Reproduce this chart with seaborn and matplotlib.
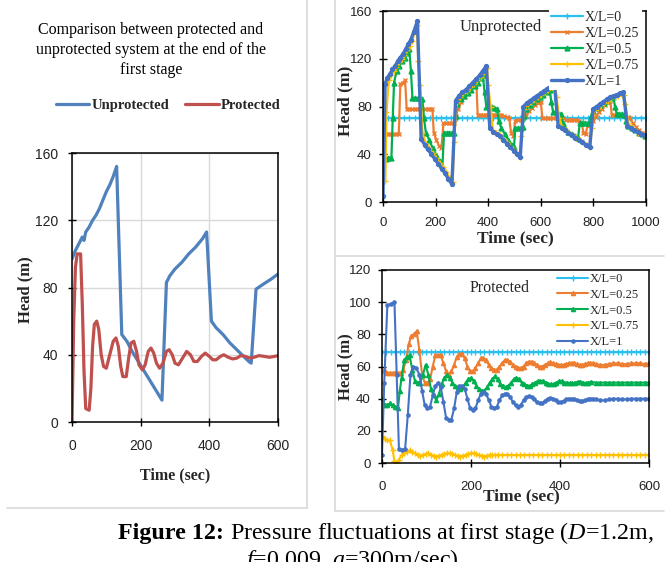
import matplotlib
matplotlib.use("Agg")
import matplotlib.pyplot as plt
import seaborn as sns
import pandas as pd
from matplotlib.lines import Line2D

sns.set_style("ticks")
plt.rcParams["font.family"] = ["Liberation Serif", "DejaVu Serif"]
plt.rcParams["mathtext.fontset"] = "custom"
plt.rcParams["mathtext.rm"] = "Liberation Serif"
plt.rcParams["mathtext.it"] = "Liberation Serif:italic"
plt.rcParams["mathtext.bf"] = "Liberation Serif:bold"

# ---------------- DATA ----------------
# Left panel: end of first stage (time s, head m)
unprotected = [(0, 97), (10, 102), (20, 106), (30, 110), (35, 108), (40, 113), (50, 116), (60, 120),
               (70, 123), (80, 127), (90, 132), (100, 137), (110, 141), (120, 146), (130, 152),
               (145, 52), (160, 48), (175, 42), (190, 37), (205, 32), (220, 27), (235, 22), (250, 17),
               (262, 13), (275, 83), (285, 87), (300, 91), (320, 95), (340, 100), (360, 104), (380, 109),
               (392, 113), (406, 60), (420, 56), (440, 52), (460, 47), (480, 43), (500, 39), (515, 36),
               (522, 35), (536, 79), (550, 81), (565, 83), (580, 85), (600, 88)]
protected = [(0, 0), (5, 60), (10, 92), (15, 100), (25, 100), (30, 70), (35, 30), (40, 8), (50, 7),
             (55, 20), (60, 45), (65, 58), (72, 60), (78, 55), (85, 40), (92, 33), (100, 32), (110, 40),
             (120, 48), (128, 50), (135, 45), (142, 33), (148, 27), (158, 27), (165, 38), (172, 47),
             (180, 48), (188, 42), (195, 34), (205, 31), (213, 34), (222, 42), (230, 44), (238, 41),
             (246, 35), (255, 32), (265, 35), (275, 42), (283, 43), (292, 40), (300, 35), (310, 34),
             (322, 38), (334, 42), (345, 40), (355, 36), (365, 36), (377, 39), (388, 41), (400, 39),
             (410, 37), (420, 37), (432, 39), (442, 40), (455, 38.5), (468, 37.5), (480, 38),
             (492, 39.5), (505, 39), (518, 38), (530, 38.5), (545, 39.5), (560, 39), (575, 38.5),
             (590, 39), (600, 39.5)]

# Top-right panel: unprotected, X/L stations
series_labels = ["X/L=0", "X/L=0.25", "X/L=0.5", "X/L=0.75", "X/L=1"]
top_xl0_t = list(range(0, 1001, 20))
top_xl0_h = [70, 70, 70, 70, 70, 70, 70, 70, 70, 70,
             70, 70, 70, 70, 70, 70, 70, 70, 70, 70,
             70, 70, 70, 70, 70, 70, 70, 70, 70, 70,
             70, 70, 70, 70, 70, 70, 70, 70, 70, 70,
             70, 70, 70, 70, 70, 70, 70, 70, 70, 70, 70]
top_xl025 = [(0, 57), (10, 57), (20, 57), (30, 57), (40, 57), (50, 57), (60, 57), (66, 99), (76, 100),
             (84, 102), (90, 78), (100, 78), (110, 78), (120, 78), (130, 78), (140, 78), (150, 78),
             (160, 78), (170, 78), (180, 78), (188, 78), (193, 58), (203, 52), (213, 47), (222, 45),
             (230, 66), (240, 66), (250, 66), (260, 66), (270, 66), (276, 72), (286, 78), (298, 84),
             (310, 88), (322, 91), (334, 94), (346, 97), (355, 100), (360, 73), (370, 73), (380, 73),
             (390, 73), (400, 73), (410, 73), (420, 73), (430, 73), (440, 73), (450, 73), (460, 72),
             (470, 71), (480, 70), (487, 58), (495, 55), (503, 68), (513, 69), (523, 69), (533, 70),
             (543, 72), (555, 76), (567, 79), (579, 81), (591, 83), (600, 84), (606, 70), (616, 70),
             (626, 70), (636, 70), (646, 70), (656, 70), (666, 70), (676, 70), (686, 70), (696, 69),
             (706, 69), (716, 69), (726, 69), (736, 69), (746, 68), (756, 66), (762, 58), (770, 57),
             (778, 64), (788, 66), (798, 68), (808, 71), (820, 75), (832, 78), (844, 81), (856, 84),
             (864, 85), (870, 73), (880, 73), (890, 73), (900, 73), (910, 73), (920, 72), (930, 71),
             (940, 70), (950, 66), (962, 63), (974, 60), (986, 58), (998, 56)]
top_xl05 = [(0, 37), (10, 36), (20, 37), (32, 37), (37, 70), (42, 100), (52, 110), (62, 114), (72, 118),
            (82, 121), (92, 125), (100, 128), (106, 110), (112, 87), (122, 87), (132, 87), (142, 87),
            (150, 86), (156, 70), (163, 58), (176, 52), (189, 45), (202, 39), (215, 34), (226, 30),
            (232, 58), (242, 58), (252, 58), (262, 58), (270, 58), (276, 72), (283, 82), (296, 86),
            (309, 89), (322, 91), (335, 94), (348, 97), (361, 100), (372, 104), (380, 106), (386, 92),
            (393, 80), (403, 80), (413, 80), (423, 79), (433, 78), (440, 68), (450, 62), (463, 57),
            (476, 52), (489, 48), (498, 46), (503, 62), (513, 62), (523, 62), (531, 63), (537, 72),
            (545, 78), (558, 81), (571, 84), (584, 86), (597, 88), (610, 90), (623, 92), (634, 94),
            (640, 84), (647, 75), (657, 75), (667, 74), (677, 74), (684, 66), (692, 62), (705, 59),
            (718, 57), (731, 55), (742, 54), (748, 66), (758, 66), (768, 66), (778, 66), (786, 66),
            (792, 72), (800, 76), (813, 79), (826, 81), (839, 83), (852, 85), (865, 87), (876, 88),
            (882, 80), (888, 74), (898, 74), (908, 74), (918, 73), (925, 68), (933, 64), (946, 62),
            (959, 60), (972, 58), (985, 57), (998, 55)]
top_xl075 = [(0, 18), (9, 18), (13, 75), (22, 102), (31, 106), (41, 110), (51, 113), (61, 117), (71, 120),
             (81, 123), (91, 127), (101, 131), (111, 135), (121, 143), (129, 148), (134, 118), (141, 98),
             (150, 58), (163, 49), (176, 45), (189, 41), (202, 37), (215, 33), (228, 29), (241, 25),
             (254, 20), (265, 17), (270, 50), (280, 84), (293, 88), (306, 91), (319, 93), (332, 96),
             (345, 99), (358, 102), (371, 105), (384, 109), (396, 112), (400, 98), (409, 80), (418, 60),
             (431, 58), (444, 56), (457, 53), (470, 50), (483, 47), (496, 44), (509, 41), (520, 38),
             (526, 55), (537, 78), (550, 82), (563, 84), (576, 86), (589, 88), (602, 90), (615, 92),
             (628, 94), (641, 96), (654, 98), (660, 88), (670, 70), (683, 62), (696, 60), (709, 58),
             (722, 56), (735, 54), (748, 52), (761, 50), (774, 48), (788, 46), (794, 62), (803, 77),
             (816, 79), (829, 81), (842, 83), (855, 85), (868, 87), (881, 88), (894, 89), (907, 90),
             (917, 90), (922, 82), (932, 66), (945, 62), (958, 60), (971, 58), (984, 57), (997, 55)]
top_xl1 = [(0, 5), (8, 99), (16, 104), (26, 107), (36, 111), (46, 114), (56, 118), (66, 121), (76, 124),
           (86, 128), (96, 132), (106, 136), (116, 142), (124, 147), (131, 152), (145, 53), (158, 48),
           (171, 44), (184, 40), (197, 36), (210, 32), (223, 28), (236, 24), (249, 19), (262, 15),
           (276, 85), (289, 89), (302, 92), (315, 94), (328, 97), (341, 100), (354, 103), (367, 106),
           (380, 110), (393, 114), (406, 62), (419, 59), (432, 57), (445, 55), (458, 52), (471, 49),
           (484, 46), (497, 43), (510, 40), (522, 38), (534, 80), (547, 83), (560, 85), (573, 87),
           (586, 89), (599, 91), (612, 93), (625, 95), (638, 97), (651, 100), (666, 64), (679, 62),
           (692, 60), (705, 58), (718, 56), (731, 54), (744, 52), (757, 50), (770, 48), (786, 46),
           (799, 78), (812, 80), (825, 82), (838, 84), (851, 86), (864, 88), (877, 89), (890, 90),
           (903, 91), (914, 92), (929, 64), (942, 62), (955, 60), (968, 59), (981, 57), (994, 56),
           (1000, 55)]

# Bottom-right panel: protected, X/L stations
bot_xl0_t = list(range(0, 601, 10))
bot_xl0_h = [69, 69, 69, 69, 69, 69, 69, 69, 69, 69,
             69, 69, 69, 69, 69, 69, 69, 69, 69, 69,
             69, 69, 69, 69, 69, 69, 69, 69, 69, 69,
             69, 69, 69, 69, 69, 69, 69, 69, 69, 69,
             69, 69, 69, 69, 69, 69, 69, 69, 69, 69,
             69, 69, 69, 69, 69, 69, 69, 69, 69, 69, 69]
bot_xl025 = [(0, 58), (6, 57), (12, 56), (18, 56), (24, 56), (30, 56), (36, 56), (42, 56), (48, 58),
             (54, 64), (60, 74), (66, 79), (72, 80), (78, 82), (84, 70), (90, 55), (96, 50), (102, 50),
             (108, 52), (114, 60), (120, 67), (126, 67), (132, 67), (138, 62), (144, 57), (150, 55),
             (156, 57), (162, 61), (168, 66), (174, 68), (180, 68), (186, 65), (192, 60), (198, 57),
             (204, 57), (210, 59), (216, 62), (222, 65), (228, 65), (234, 64), (240, 61), (246, 59),
             (252, 58), (258, 58), (264, 60), (270, 62), (276, 64), (282, 64), (288, 63), (294, 61),
             (300, 60), (306, 59), (312, 59), (318, 60), (324, 62), (330, 63), (336, 63), (342, 62),
             (348, 61), (354, 60), (360, 60), (366, 61), (372, 62), (378, 62.5), (384, 62), (390, 61.5),
             (396, 61), (402, 61), (408, 61), (414, 61.5), (420, 62), (426, 62), (432, 62), (438, 61.5),
             (444, 61), (450, 61), (456, 61.5), (462, 62), (468, 62), (474, 62), (480, 61.5), (490, 61),
             (500, 61), (510, 61.5), (520, 62), (530, 62), (540, 61.5), (550, 61.5), (560, 62),
             (570, 62), (580, 62), (590, 61.5), (600, 62)]
bot_xl05 = [(0, 40), (6, 36), (12, 36), (18, 37), (24, 36), (30, 35), (36, 34), (40, 45), (44, 53),
            (50, 64), (56, 66), (62, 67), (68, 58), (74, 51), (80, 50), (86, 50), (92, 55), (98, 61),
            (104, 55), (110, 46), (116, 42), (122, 39), (128, 43), (134, 49), (140, 53), (146, 55),
            (152, 53), (158, 50), (164, 48), (170, 47), (176, 46), (182, 47), (188, 50), (194, 52),
            (200, 53), (206, 51), (212, 48), (218, 46), (224, 45), (230, 45), (236, 47), (242, 50),
            (248, 52), (254, 54), (260, 52), (266, 49), (272, 48), (278, 47), (284, 48), (290, 50),
            (296, 52), (302, 53), (308, 52), (314, 50), (320, 49), (326, 48), (332, 48), (338, 49),
            (344, 50), (350, 51), (356, 51), (362, 51), (368, 50), (374, 49), (380, 49), (386, 49),
            (392, 50), (398, 51), (404, 51), (410, 50), (416, 50), (422, 49.5), (428, 49.5), (434, 50),
            (440, 50.5), (446, 50.5), (452, 50), (458, 49.5), (464, 50), (470, 50.5), (480, 50),
            (490, 50), (500, 50), (510, 50), (520, 50), (530, 50), (540, 50), (550, 50), (560, 50),
            (570, 50), (580, 50), (590, 50), (600, 50)]
bot_xl075 = [(0, 17), (6, 15), (12, 14), (18, 14), (24, 8), (28, 1), (32, 0), (38, 2), (44, 5), (50, 6),
             (56, 7), (62, 8), (68, 7), (74, 6), (80, 5), (86, 4.5), (92, 5), (98, 5.5), (104, 6),
             (110, 5), (116, 4.5), (122, 4), (128, 4.5), (134, 5), (140, 5.5), (146, 6), (152, 6),
             (158, 5.5), (164, 5), (170, 4.5), (176, 4), (182, 4.5), (188, 5), (194, 5.5), (200, 6),
             (206, 6), (212, 5.5), (218, 5), (224, 4.5), (230, 4), (236, 4.5), (242, 5), (248, 5),
             (254, 5), (260, 5), (270, 5), (280, 5), (290, 5), (300, 5), (310, 5), (320, 5), (330, 5),
             (340, 5), (350, 5), (360, 5), (370, 5), (380, 5), (390, 5), (400, 5), (410, 5), (420, 5),
             (430, 5), (440, 5), (450, 5), (460, 5), (470, 5), (480, 5), (490, 5), (500, 5), (510, 5),
             (520, 5), (530, 5), (540, 5), (550, 5), (560, 5), (570, 5), (580, 5), (590, 5), (600, 5)]
bot_xl1 = [(0, 5), (5, 50), (12, 98), (20, 99), (28, 100), (33, 55), (38, 9), (45, 8), (52, 9), (58, 30),
           (64, 55), (70, 60), (77, 59), (84, 55), (90, 45), (96, 36), (102, 34), (108, 35), (114, 42),
           (120, 48), (126, 50), (132, 47), (138, 38), (144, 28), (150, 27), (156, 27), (162, 34),
           (168, 44), (174, 48), (180, 48), (186, 46), (192, 40), (198, 34), (204, 33), (210, 34),
           (216, 39), (222, 43), (228, 44), (234, 43), (240, 39), (246, 35), (252, 34), (258, 35),
           (264, 39), (270, 42), (276, 43), (282, 43), (288, 41), (294, 38), (300, 36), (306, 35),
           (312, 36), (318, 39), (324, 41), (330, 41.5), (336, 41), (342, 39.5), (348, 38), (354, 37),
           (360, 37), (366, 38.5), (372, 40), (378, 40.5), (384, 40), (390, 39), (396, 38), (402, 38),
           (408, 38.5), (414, 39.5), (420, 40), (426, 40), (432, 39.5), (438, 39), (444, 38.5),
           (450, 38.5), (456, 39), (462, 39.5), (468, 40), (474, 40), (480, 39.5), (490, 39), (500, 39),
           (510, 39.5), (520, 40), (530, 40), (540, 39.5), (550, 39.5), (560, 40), (570, 40), (580, 40),
           (590, 40), (600, 40)]

left_xticks = [0, 200, 400, 600]
left_yticks = [0, 40, 80, 120, 160]
top_xticks = [0, 200, 400, 600, 800, 1000]
top_yticks = [0, 40, 80, 120, 160]
bot_xticks = [0, 200, 400, 600]
bot_yticks = [0, 20, 40, 60, 80, 100, 120]

# ---------------- FIGURE ----------------
W, H = 669, 562
fig = plt.figure(figsize=(W / 100, H / 100), dpi=100)


def px_axes(x0, y0, x1, y1):
    return fig.add_axes([x0 / W, 1 - y1 / H, (x1 - x0) / W, (y1 - y0) / H])


def frame(x0, y0, x1, y1):
    fig.add_artist(Line2D([x0 / W, x1 / W], [1 - y0 / H, 1 - y1 / H],
                          color="#d9d9d9", lw=1.2, transform=fig.transFigure))


# panel borders
frame(307, 0, 307, 508)
frame(7, 508, 307, 508)
frame(335, 0, 335, 511)
frame(335, 256, 664, 256)
frame(335, 511, 664, 511)


def to_df(pairs):
    return pd.DataFrame(pairs, columns=["t", "h"])


def style_axes(ax, xticks, yticks, fs, xpad, ypad):
    ax.set_xticks(xticks)
    ax.set_yticks(yticks)
    ax.tick_params(direction="inout", length=6, width=1, colors="black",
                   labelsize=fs, pad=xpad, axis="x")
    ax.tick_params(direction="inout", length=6, width=1, colors="black",
                   labelsize=fs, pad=ypad, axis="y")
    for lab in ax.get_xticklabels() + ax.get_yticklabels():
        lab.set_family("Liberation Sans")
        lab.set_color("#222222")
    for s in ax.spines.values():
        s.set_visible(True)
        s.set_color("black")
        s.set_linewidth(1.1)


# ---- Left panel ----
ax_l = px_axes(72, 153, 278, 422)
sns.lineplot(data=to_df(unprotected), x="t", y="h", ax=ax_l, color="#4F81BD", lw=2.3,
             label="Unprotected", estimator=None, sort=False)
sns.lineplot(data=to_df(protected), x="t", y="h", ax=ax_l, color="#C0504D", lw=2.3,
             label="Protected", estimator=None, sort=False)
ax_l.set_xlim(0, 600)
ax_l.set_ylim(0, 160)
style_axes(ax_l, left_xticks, left_yticks, 10, 9, 7)
ax_l.grid(True, color="#d9d9d9", lw=1)
ax_l.set_axisbelow(True)
ax_l.set_ylabel("Head (m)", fontsize=12, fontweight="bold", va="center")
ax_l.yaxis.set_label_coords((25 - 72) / 206, (422 - 290) / 269)
ax_l.set_xlabel("Time (sec)", fontsize=11.5, fontweight="bold", va="center")
ax_l.xaxis.set_label_coords(0.5, -(475 - 422) / 269)
ax_l.legend(loc="center", bbox_to_anchor=(168 / W, 1 - 105 / H), bbox_transform=fig.transFigure,
            ncol=2, frameon=False, handlelength=2.3, columnspacing=1.1, handletextpad=0.15,
            prop={"family": "Liberation Serif", "weight": "bold", "size": 10.5})
fig.text(151 / W, 1 - 50 / H,
         "Comparison between protected and\nunprotected system at the end of the\nfirst stage",
         ha="center", va="center", fontsize=11.5, linespacing=1.36, color="black")

# ---- Top-right panel (Unprotected) ----
colors = ["#2BC0F0", "#ED7D31", "#00B050", "#FFC000", "#4472C4"]
ax_t = px_axes(383, 11, 646, 202)
top_series = [pd.DataFrame({"t": top_xl0_t, "h": top_xl0_h}), to_df(top_xl025), to_df(top_xl05),
              to_df(top_xl075), to_df(top_xl1)]
top_markers = [("+", 5, 1.6), ("x", 3.5, 1.6), ("^", 3.5, 1.6), ("+", 5, 1.6), ("o", 2.8, 2.4)]
for lab, df, col, (mk, ms, lw) in zip(series_labels, top_series, colors, top_markers):
    sns.lineplot(data=df, x="t", y="h", ax=ax_t, color=col, lw=lw, marker=mk, markersize=ms,
                 markeredgecolor=col, markerfacecolor=col, markeredgewidth=1,
                 label=lab, estimator=None, sort=False)
ax_t.set_xlim(0, 1000)
ax_t.set_ylim(0, 160)
style_axes(ax_t, top_xticks, top_yticks, 9.5, 8, 5)
ax_t.set_ylabel("Head (m)", fontsize=12.5, fontweight="bold", va="center")
ax_t.yaxis.set_label_coords((345 - 383) / 263, (202 - 101) / 191)
ax_t.set_xlabel("Time (sec)", fontsize=12.5, fontweight="bold", va="center")
ax_t.xaxis.set_label_coords((515 - 383) / 263, -(238 - 202) / 191)
ax_t.text((501 - 383) / 263, (202 - 27) / 191, "Unprotected", transform=ax_t.transAxes,
          ha="center", va="center", fontsize=12)
leg_t = ax_t.legend(loc="upper left", bbox_to_anchor=(549 / W, 1 - 9 / H), bbox_transform=fig.transFigure,
                    frameon=True, fancybox=False, facecolor="white", edgecolor="none", framealpha=1,
                    borderpad=0.15, labelspacing=0.22, handlelength=2.3, handletextpad=0.15,
                    borderaxespad=0, prop={"family": "Liberation Serif", "size": 10})
leg_t.set_zorder(10)

# ---- Bottom-right panel (Protected) ----
ax_b = px_axes(382, 270, 649, 463)
bot_series = [pd.DataFrame({"t": bot_xl0_t, "h": bot_xl0_h}), to_df(bot_xl025), to_df(bot_xl05),
              to_df(bot_xl075), to_df(bot_xl1)]
bot_markers = [("+", 5, 1.5), ("^", 3, 1.5), ("^", 3, 1.5), ("+", 4.5, 1.5), ("o", 2.3, 1.5)]
for lab, df, col, (mk, ms, lw) in zip(series_labels, bot_series, colors, bot_markers):
    sns.lineplot(data=df, x="t", y="h", ax=ax_b, color=col, lw=lw, marker=mk, markersize=ms,
                 markeredgecolor=col, markerfacecolor=col, markeredgewidth=1,
                 label=lab, estimator=None, sort=False)
ax_b.set_xlim(0, 600)
ax_b.set_ylim(0, 120)
style_axes(ax_b, bot_xticks, bot_yticks, 9.5, 10, 5)
ax_b.set_ylabel("Head (m)", fontsize=12, fontweight="bold", va="center")
ax_b.yaxis.set_label_coords((345 - 382) / 267, (463 - 367) / 193)
ax_b.set_xlabel("Time (sec)", fontsize=12.5, fontweight="bold", va="center")
ax_b.xaxis.set_label_coords((521 - 382) / 267, -(496 - 463) / 193)
ax_b.text((500 - 382) / 267, (463 - 288) / 193, "Protected", transform=ax_b.transAxes,
          ha="center", va="center", fontsize=11.5)
leg_b = ax_b.legend(loc="upper left", bbox_to_anchor=(557 / W, 1 - 273 / H), bbox_transform=fig.transFigure,
                    frameon=False, labelspacing=0.3, handlelength=2.5, handletextpad=0.15,
                    borderpad=0, borderaxespad=0, prop={"family": "Liberation Serif", "size": 9})

# ---- Caption ----
base_y = 1 - 539 / H
cap1 = fig.text(118 / W, base_y, "Figure 12:", ha="left", va="baseline",
                fontsize=17.3, fontweight="bold", color="black")
renderer = fig.canvas.get_renderer()
x_end = fig.transFigure.inverted().transform(
    (cap1.get_window_extent(renderer).x1, 0))[0]
fig.text(x_end, base_y, r" Pressure fluctuations at first stage ($D$=1.2m,",
         ha="left", va="baseline", fontsize=17.3, color="black")
fig.text(352 / W, 1 - 560 / H, r"$f$=0.009, $a$=300m/sec)",
         ha="center", va="center", fontsize=17.3, color="black")

fig.savefig("out.png", dpi=100)
